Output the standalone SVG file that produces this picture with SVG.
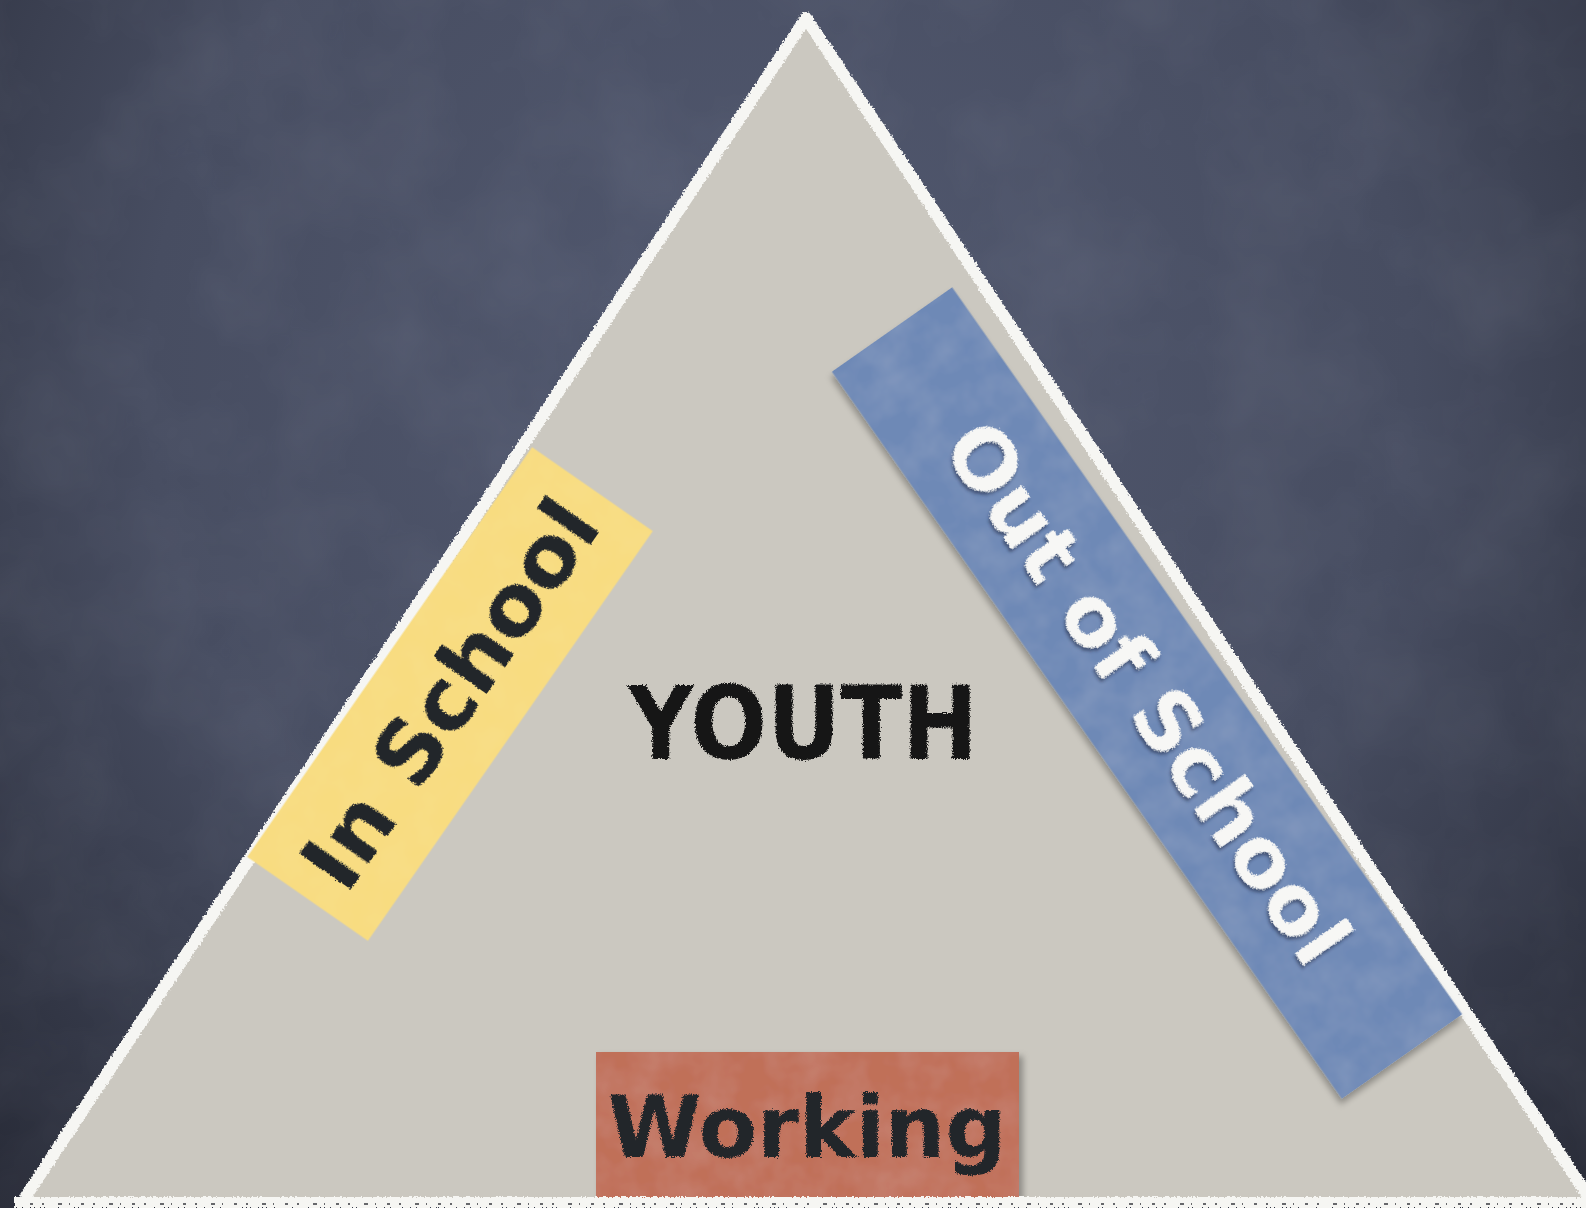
<svg xmlns="http://www.w3.org/2000/svg" width="1586" height="1208" viewBox="0 0 1586 1208">
  <defs>
    <radialGradient id="board" cx="780" cy="380" r="1150" gradientUnits="userSpaceOnUse">
      <stop offset="0" stop-color="#525970"/>
      <stop offset="0.55" stop-color="#474d61"/>
      <stop offset="1" stop-color="#262935"/>
    </radialGradient>
    <filter id="noise" x="0" y="0" width="100%" height="100%">
      <feTurbulence type="fractalNoise" baseFrequency="0.009" numOctaves="4" seed="4" result="t"/>
      <feColorMatrix in="t" type="matrix" values="0 0 0 0 0.8  0 0 0 0 0.82  0 0 0 0 0.9  0 0 0 0.3 -0.1"/>
    </filter>
    <filter id="chalkEdge" x="-5%" y="-5%" width="110%" height="110%">
      <feTurbulence type="fractalNoise" baseFrequency="0.5" numOctaves="2" seed="7" result="t"/>
      <feDisplacementMap in="SourceGraphic" in2="t" scale="5" xChannelSelector="R" yChannelSelector="G"/>
    </filter>
    <filter id="chalkText" x="-10%" y="-20%" width="120%" height="140%">
      <feTurbulence type="fractalNoise" baseFrequency="0.8" numOctaves="2" seed="3" result="t"/>
      <feDisplacementMap in="SourceGraphic" in2="t" scale="5" xChannelSelector="R" yChannelSelector="G"/>
    </filter>
    <filter id="chalkTextShadow" x="-10%" y="-20%" width="120%" height="140%">
      <feTurbulence type="fractalNoise" baseFrequency="0.8" numOctaves="2" seed="5" result="t"/>
      <feDisplacementMap in="SourceGraphic" in2="t" scale="5" xChannelSelector="R" yChannelSelector="G" result="d"/>
      <feDropShadow in="d" dx="2" dy="3" stdDeviation="1.5" flood-color="#1d2a45" flood-opacity="0.55"/>
    </filter>
    <filter id="paper" x="-5%" y="-5%" width="115%" height="115%">
      <feTurbulence type="fractalNoise" baseFrequency="0.03" numOctaves="3" seed="9" result="t"/>
      <feColorMatrix in="t" type="matrix" values="0 0 0 0 1  0 0 0 0 1  0 0 0 0 1  0 0 0 0.12 -0.04" result="tn"/>
      <feComposite in="tn" in2="SourceGraphic" operator="atop" result="tex"/>
      <feDropShadow in="tex" dx="4" dy="4" stdDeviation="3" flood-color="#000" flood-opacity="0.3"/>
    </filter>
    <filter id="paperFlat" x="-5%" y="-5%" width="110%" height="110%">
      <feTurbulence type="fractalNoise" baseFrequency="0.03" numOctaves="3" seed="2" result="t"/>
      <feColorMatrix in="t" type="matrix" values="0 0 0 0 1  0 0 0 0 1  0 0 0 0 1  0 0 0 0.06 -0.02" result="tn"/>
      <feComposite in="tn" in2="SourceGraphic" operator="atop"/>
    </filter>
  </defs>
  <style>
    .dark { font-family: "DejaVu Sans", sans-serif; font-weight: bold; fill: #24262c; }
    .light { font-family: "DejaVu Sans", sans-serif; font-weight: bold; fill: #f7f7f5; }
    .edge { fill: none; stroke: #f6f6f3; stroke-width: 12; stroke-linejoin: round; }
  </style>

  <g id="background">
    <rect x="0" y="0" width="1586" height="1208" fill="url(#board)"/>
    <rect x="0" y="0" width="1586" height="1208" filter="url(#noise)" opacity="0.35"/>
  </g>

  <g id="triangle">
    <polygon points="806,18 24,1199 1590,1199" fill="#cbc8c0"/>
    <polyline class="edge" points="24,1199 806,18 1590,1199" filter="url(#chalkEdge)"/>
  </g>

  <g id="connectors"/>

  <g id="node-youth">
    <text class="dark" x="803" y="759" font-size="102" text-anchor="middle" textLength="350" lengthAdjust="spacingAndGlyphs" style="fill:#141414" filter="url(#chalkText)">YOUTH</text>
  </g>

  <g id="node-in-school" transform="rotate(-55.19 450 694)">
    <rect x="200.5" y="620.5" width="499" height="147" fill="#f8dc80" filter="url(#paperFlat)"/>
    <text class="dark" x="450" y="724" font-size="86" text-anchor="middle" textLength="450" lengthAdjust="spacingAndGlyphs" filter="url(#chalkText)">In School</text>
  </g>

  <g id="node-out-of-school" transform="rotate(54.95 1147 693)">
    <rect x="703" y="619.5" width="888" height="147" fill="#6e89b6" filter="url(#paper)"/>
    <text class="light" x="1147" y="721" font-size="82" text-anchor="middle" textLength="640" lengthAdjust="spacingAndGlyphs" filter="url(#chalkTextShadow)">Out of School</text>
  </g>

  <g id="node-working">
    <rect x="596" y="1052" width="423" height="146" fill="#c06f58" filter="url(#paper)"/>
    <text class="dark" x="807" y="1157" font-size="86" text-anchor="middle" textLength="399" lengthAdjust="spacingAndGlyphs" filter="url(#chalkText)">Working</text>
  </g>

  <g id="bottom-edge">
    <rect x="14" y="1197" width="1572" height="11" fill="#f6f6f3" filter="url(#chalkEdge)"/>
    <line x1="30" y1="1204" x2="1580" y2="1204" stroke="#2b2d33" stroke-width="2" stroke-dasharray="3 9 2 14 4 7 1 11" opacity="0.7"/>
  </g>
</svg>
